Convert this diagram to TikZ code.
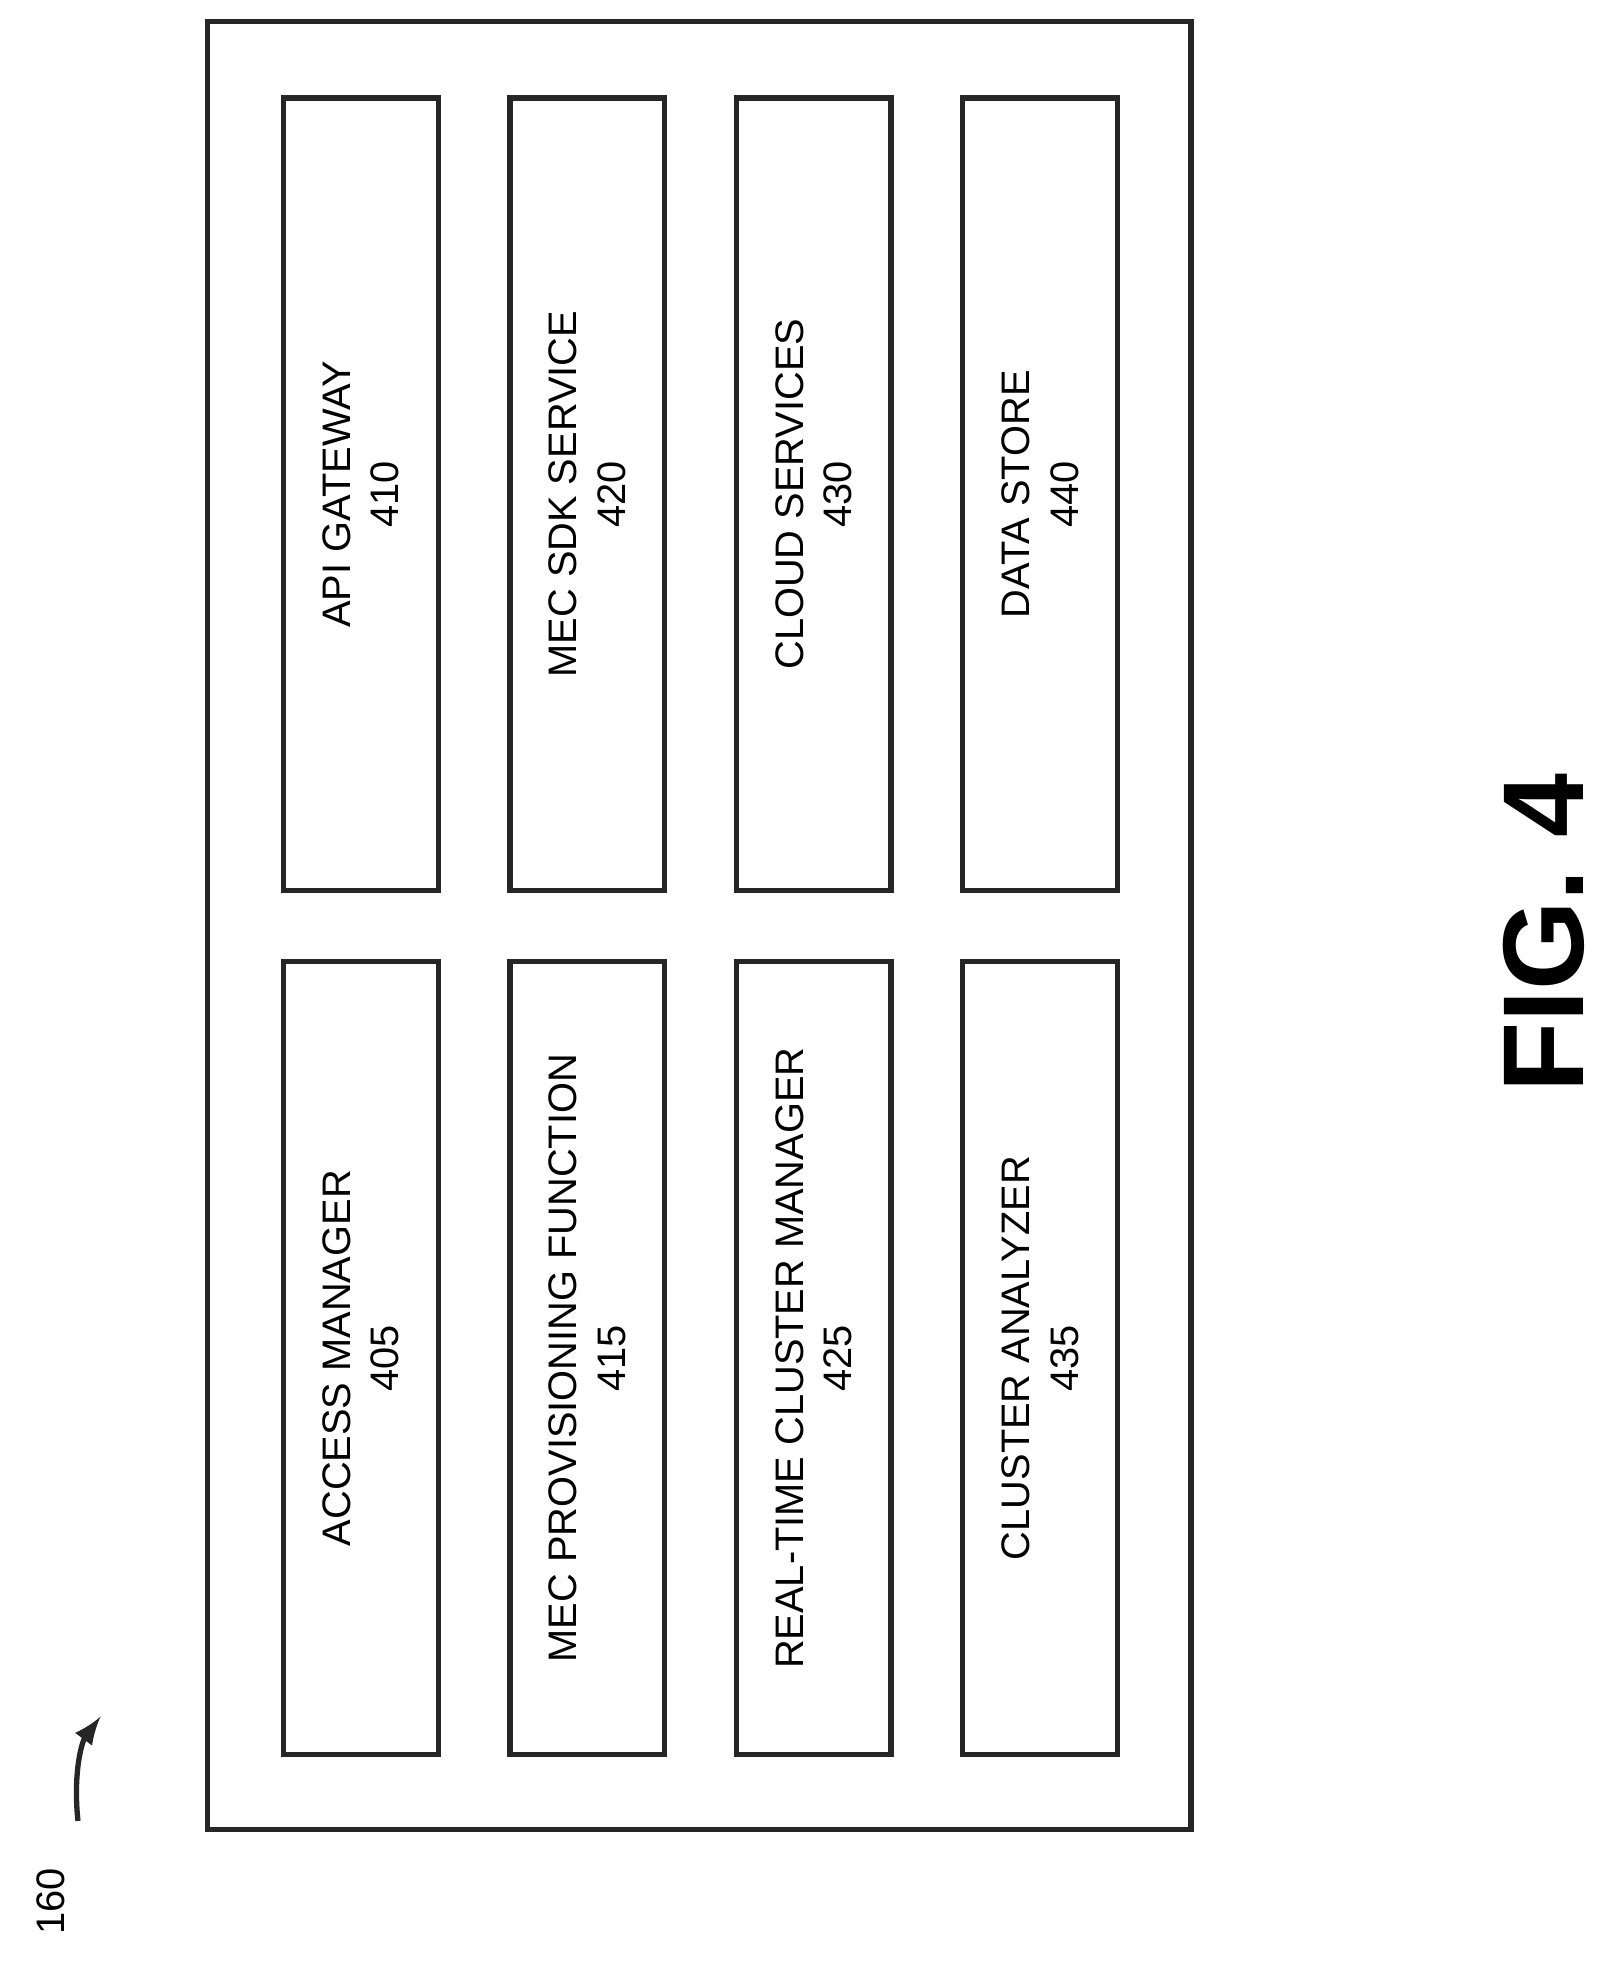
\documentclass[tikz,border=0pt]{standalone}
\usepackage{fontspec}
\setmainfont{Liberation Sans}
\usepackage{tikz}

\tikzset{
  unit/.style={draw=black!85, line width=1.2pt, minimum width=1.23cm, minimum height=6.3cm,
    inner sep=0pt, font=\fontsize{9}{11}\selectfont, align=center},
  txt/.style={rotate=90, align=center}
}

\begin{document}
\begin{tikzpicture}[x=0.01cm,y=-0.01cm]
        \useasboundingbox (0,0) rectangle (1280,1561);
        \draw[black!85, line width=1.2pt] (165,17) rectangle (947,1455);
        \node[unit] (am)  at (287,1080) {};
        \node[txt, font=\fontsize{9}{11}\selectfont] at (am) {ACCESS MANAGER\\405};
        \node[unit] (ag)  at (287,393) {};
        \node[txt, font=\fontsize{9}{11}\selectfont] at (ag) {API GATEWAY\\410};
        \node[unit] (mpf) at (467,1080) {};
        \node[txt, font=\fontsize{9}{11}\selectfont] at (mpf) {MEC PROVISIONING FUNCTION\\415};
        \node[unit] (sdk) at (467,393) {};
        \node[txt, font=\fontsize{9}{11}\selectfont] at (sdk) {MEC SDK SERVICE\\420};
        \node[unit] (rcm) at (647,1080) {};
        \node[txt, font=\fontsize{9}{11}\selectfont] at (rcm) {REAL-TIME CLUSTER MANAGER\\425};
        \node[unit] (cs)  at (647,393) {};
        \node[txt, font=\fontsize{9}{11}\selectfont] at (cs) {CLOUD SERVICES\\430};
        \node[unit] (ca)  at (827,1080) {};
        \node[txt, font=\fontsize{9}{11}\selectfont] at (ca) {CLUSTER ANALYZER\\435};
        \node[unit] (ds)  at (827,393) {};
        \node[txt, font=\fontsize{9}{11}\selectfont] at (ds) {DATA STORE\\440};
        % reference label
        \node[rotate=90, font=\fontsize{9}{11}\selectfont] (ref) at (40,1512) {160};
        \coordinate (tip) at (80,1365);
        \draw[black!85, line width=1.2pt, -latex] (62,1448) .. controls (58,1410) and (65,1385) .. (tip);
        \node[rotate=90, font=\bfseries\fontsize{26}{30}\selectfont] (fig) at (1228,742) {FIG. 4};
\end{tikzpicture}
\end{document}
